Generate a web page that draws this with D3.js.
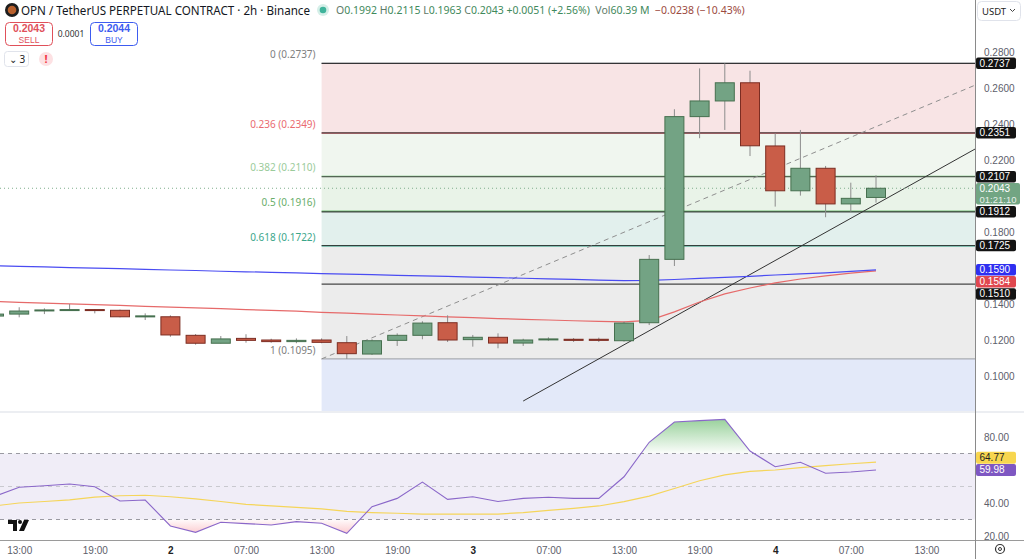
<!DOCTYPE html>
<html>
<head>
<meta charset="utf-8">
<script src="https://cdn.jsdelivr.net/npm/d3@7"></script>
<style>
  body { margin: 0; background: #fff; overflow: hidden; }
  svg { display: block; font-family: "Noto Sans", Roboto, sans-serif; }
</style>
</head>
<body>
<svg id="chart" width="1024" height="559"></svg>
<script>
// ---- data (2h bars, OPN/USDT perp) ----
const open  = [0.1333,0.1344,0.1363,0.1364,0.1369,0.1365,0.1331,0.1329,0.1226,0.1182,0.1209,0.1200,
               0.1191,0.1200,0.1185,0.1122,0.1198,0.1226,0.1296,0.1202,0.1215,0.1183,0.1202,0.1204,
               0.1204,0.1196,0.1296,0.1648,0.2441,0.2528,0.2629,0.2278,0.2029,0.2154,0.1956,0.1992];
const high  = [0.1350,0.1382,0.1376,0.1400,0.1371,0.1369,0.1348,0.1337,0.1233,0.1222,0.1232,0.1207,
               0.1209,0.1209,0.1222,0.1204,0.1237,0.1304,0.1337,0.1228,0.1237,0.1207,0.1215,0.1211,
               0.1213,0.1302,0.1672,0.2482,0.2709,0.2737,0.2696,0.2348,0.2367,0.2167,0.2074,0.2115];
const low   = [0.1328,0.1326,0.1344,0.1363,0.1348,0.1326,0.1311,0.1218,0.1174,0.1181,0.1185,0.1185,
               0.1182,0.1182,0.1095,0.1117,0.1167,0.1204,0.1189,0.1163,0.1154,0.1167,0.1196,0.1189,
               0.1189,0.1191,0.1283,0.1611,0.2321,0.2367,0.2222,0.1941,0.2002,0.1882,0.1913,0.1963];
const close = [0.1344,0.1361,0.1367,0.1369,0.1364,0.1329,0.1334,0.1228,0.1182,0.1206,0.1198,0.1191,
               0.1198,0.1187,0.1124,0.1196,0.1226,0.1294,0.1200,0.1215,0.1183,0.1200,0.1206,0.1198,
               0.1198,0.1294,0.1648,0.2441,0.2528,0.2629,0.2279,0.2029,0.2154,0.1956,0.1987,0.2043];

const maBlue = [0.1612,0.1609,0.1606,0.1602,0.1599,0.1596,0.1592,0.1589,0.1586,0.1582,0.1579,0.1576,
                0.1573,0.1569,0.1566,0.1563,0.1559,0.1556,0.1553,0.1549,0.1546,0.1543,0.1540,0.1537,
                0.1533,0.1530,0.1531,0.1536,0.1542,0.1548,0.1554,0.1561,0.1567,0.1573,0.1581,0.1590];
const maRed  = [0.1414,0.1409,0.1405,0.1401,0.1396,0.1392,0.1387,0.1383,0.1378,0.1374,0.1369,0.1365,
                0.1360,0.1354,0.1349,0.1344,0.1339,0.1334,0.1329,0.1324,0.1319,0.1315,0.1311,0.1307,
                0.1303,0.1301,0.1309,0.1356,0.1411,0.1456,0.1489,0.1517,0.1539,0.1556,0.1571,0.1584];

const rsi   = [43.9,49.5,50.5,51.5,49.9,41.2,41.8,26.1,22.2,28.3,27.5,26.7,
               28.7,27.7,21.6,37.8,42.8,52.7,42.2,43.8,40.9,42.8,43.5,42.8,
               42.8,55.9,76.8,89.1,89.9,90.7,71.5,62.0,64.7,58.0,58.8,59.98];
const rsiMa = [38.2,40.0,40.9,41.9,43.6,44.4,44.7,43.8,42.5,40.9,39.2,38.2,
               37.3,36.4,34.9,34.2,33.8,33.3,33.2,33.2,33.3,34.2,35.5,36.7,
               38.2,40.8,44.2,48.8,53.5,57.0,59.2,60.0,61.4,62.7,63.8,64.77];

const timeTicks  = [1, 4, 7, 10, 13, 16, 19, 22, 25, 28, 31, 34, 37];
const timeLabels = ["13:00","19:00","2","07:00","13:00","19:00","3","07:00","13:00","19:00","4","07:00","13:00"];
const priceTicks = [0.28, 0.26, 0.24, 0.22, 0.20, 0.18, 0.16, 0.14, 0.12, 0.10];
const rsiTicks   = [80, 60, 40, 20];

const fibRatios = [0, 0.236, 0.382, 0.5, 0.618, 1, 1.618];
const fibPrices = [0.2737, 0.2349, 0.2110, 0.1916, 0.1722, 0.1095, 0.0080];
const fibStartBar = 13;
const rayPrices = [0.2737, 0.2351, 0.2107, 0.1912, 0.1725, 0.1510];
const trendBars = [21, 35], trendPrices = [0.0861, 0.1954];
const fibDiagBars = [13, 41], fibDiagPrices = [0.1095, 0.2737];
const countdown = "01:21:10";

// ---- styles ----
const fibFill  = ["#f8e4e5", "#f0f6ef", "#e9f3e8", "#e2f0ed", "#ececec", "#e3e9f9"];
const fibLine  = ["#787b86", "#e0555f", "#81c784", "#4caf50", "#2a9a80", "#9a9ca4"];
const fibText  = ["#808080", "#ea6b70", "#9acb9a", "#6aae6a", "#3ba68a", "#808080"];
const axisFont = "Liberation Sans, Arial, sans-serif";

const W = 1024, H = 559;
const axisX = 975, paneBottom = 411, rsiTop = 413, rsiBottom = 540;
const bodyW = 19;

const svg = d3.select("#chart");
const x  = d3.scaleLinear().domain([0, 35]).range([-6, 876]);
const y  = d3.scaleLinear().domain([0.10, 0.28]).range([376, 52]);
const yR = d3.scaleLinear().domain([40, 80]).range([503, 437]);

const defs = svg.append("defs");
defs.append("clipPath").attr("id", "clipP")
  .append("rect").attr("x", 0).attr("y", 0).attr("width", axisX).attr("height", paneBottom);
defs.append("clipPath").attr("id", "clipR")
  .append("rect").attr("x", 0).attr("y", rsiTop).attr("width", axisX).attr("height", rsiBottom - rsiTop);
defs.append("clipPath").attr("id", "clipOver")
  .append("rect").attr("x", 0).attr("y", rsiTop).attr("width", axisX).attr("height", yR(70) - rsiTop);
defs.append("clipPath").attr("id", "clipUnder")
  .append("rect").attr("x", 0).attr("y", yR(30)).attr("width", axisX).attr("height", rsiBottom - yR(30));
defs.append("clipPath").attr("id", "clipAxisR")
  .append("rect").attr("x", axisX).attr("y", rsiTop).attr("width", W - axisX).attr("height", rsiBottom - rsiTop);

const gUp = defs.append("linearGradient").attr("id", "gUp").attr("gradientUnits", "userSpaceOnUse")
  .attr("x1", 0).attr("x2", 0).attr("y1", yR(92)).attr("y2", yR(70));
gUp.append("stop").attr("offset", 0).attr("stop-color", "#4caf50").attr("stop-opacity", 0.6);
gUp.append("stop").attr("offset", 1).attr("stop-color", "#4caf50").attr("stop-opacity", 0.02);
const gDn = defs.append("linearGradient").attr("id", "gDn").attr("gradientUnits", "userSpaceOnUse")
  .attr("x1", 0).attr("x2", 0).attr("y1", yR(30)).attr("y2", yR(20));
gDn.append("stop").attr("offset", 0).attr("stop-color", "#f23645").attr("stop-opacity", 0.02);
gDn.append("stop").attr("offset", 1).attr("stop-color", "#f23645").attr("stop-opacity", 0.3);

// ---- price pane ----
const pane = svg.append("g").attr("clip-path", "url(#clipP)");
const fx0 = x(fibStartBar);

// fib bands
pane.selectAll("rect.band").data(d3.range(fibPrices.length - 1)).join("rect")
  .attr("x", fx0).attr("width", axisX - fx0)
  .attr("y", i => y(fibPrices[i]))
  .attr("height", i => y(fibPrices[i + 1]) - y(fibPrices[i]))
  .attr("fill", i => fibFill[i]);

// fib lines
pane.selectAll("line.fib").data(d3.range(fibPrices.length - 1)).join("line")
  .attr("x1", fx0).attr("x2", axisX)
  .attr("y1", i => y(fibPrices[i])).attr("y2", i => y(fibPrices[i]))
  .attr("stroke", i => fibLine[i]).attr("stroke-width", 1);

// horizontal rays
pane.selectAll("line.ray").data(rayPrices).join("line")
  .attr("x1", fx0).attr("x2", axisX)
  .attr("y1", d => y(d)).attr("y2", d => y(d))
  .attr("stroke", "#1e1e1e").attr("stroke-opacity", 0.8).attr("stroke-width", 1.2);

// fib labels
svg.append("g").selectAll("text").data(d3.range(fibPrices.length - 1)).join("text")
  .attr("x", fx0 - 6).attr("y", i => y(fibPrices[i]) - 8)
  .attr("text-anchor", "end").attr("dominant-baseline", "middle")
  .attr("font-size", 10).attr("fill", i => fibText[i])
  .text(i => `${fibRatios[i]} (${fibPrices[i].toFixed(4)})`);

// fib diagonal (dashed)
pane.append("line")
  .attr("x1", x(fibDiagBars[0])).attr("y1", y(fibDiagPrices[0]))
  .attr("x2", x(fibDiagBars[1])).attr("y2", y(fibDiagPrices[1]))
  .attr("stroke", "#8f8f8f").attr("stroke-width", 1).attr("stroke-dasharray", "5,4");

// trend line (extended to the right)
{
  const x1 = x(trendBars[0]), y1 = y(trendPrices[0]);
  const x2 = x(trendBars[1]), y2 = y(trendPrices[1]);
  const k = (y2 - y1) / (x2 - x1);
  pane.append("line")
    .attr("x1", x1).attr("y1", y1)
    .attr("x2", axisX).attr("y2", y1 + k * (axisX - x1))
    .attr("stroke", "#333").attr("stroke-width", 1);
}

// current price dotted line
pane.append("line")
  .attr("x1", 0).attr("x2", axisX)
  .attr("y1", y(close[35])).attr("y2", y(close[35]))
  .attr("stroke", "#7fae8c").attr("stroke-width", 1).attr("stroke-dasharray", "1,3");

// moving averages
const maLine = d3.line().x((d, i) => x(i)).y(d => y(d));
pane.append("path").attr("d", maLine(maRed))
  .attr("fill", "none").attr("stroke", "#e66a6a").attr("stroke-width", 1.2);
pane.append("path").attr("d", maLine(maBlue))
  .attr("fill", "none").attr("stroke", "#4a4cf2").attr("stroke-width", 1.2);

// candles
const candles = d3.range(open.length).map(i => ({ i, o: open[i], h: high[i], l: low[i], c: close[i] }));
pane.selectAll("line.wick").data(candles).join("line")
  .attr("x1", d => x(d.i)).attr("x2", d => x(d.i))
  .attr("y1", d => y(d.h)).attr("y2", d => y(d.l))
  .attr("stroke", "#8c8c8c").attr("stroke-width", 1);
pane.selectAll("rect.body").data(candles).join("rect")
  .attr("x", d => x(d.i) - bodyW / 2).attr("width", bodyW)
  .attr("y", d => y(Math.max(d.o, d.c)))
  .attr("height", d => Math.max(1, Math.abs(y(d.o) - y(d.c))))
  .attr("fill", d => d.c >= d.o ? "#73a384" : "#c95d48")
  .attr("stroke", d => d.c >= d.o ? "#46704f" : "#7c2d22")
  .attr("stroke-width", 1);

// ---- RSI pane ----
const rp = svg.append("g").attr("clip-path", "url(#clipR)");
rp.append("rect").attr("x", 0).attr("width", axisX)
  .attr("y", yR(70)).attr("height", yR(30) - yR(70)).attr("fill", "#f0edf7");
rp.selectAll("line.lvl").data([70, 50, 30]).join("line")
  .attr("x1", 0).attr("x2", axisX).attr("y1", d => yR(d)).attr("y2", d => yR(d))
  .attr("stroke", d => d === 50 ? "#c9c9cf" : "#9a9aa2").attr("stroke-dasharray", "4,4");

const over = d3.area().x((d, i) => x(i)).y0(yR(70)).y1(d => yR(d));
rp.append("path").attr("d", over(rsi)).attr("fill", "url(#gUp)").attr("clip-path", "url(#clipOver)");
const under = d3.area().x((d, i) => x(i)).y0(yR(30)).y1(d => yR(d));
rp.append("path").attr("d", under(rsi)).attr("fill", "url(#gDn)").attr("clip-path", "url(#clipUnder)");

const rLine = d3.line().x((d, i) => x(i)).y(d => yR(d));
rp.append("path").attr("d", rLine(rsiMa)).attr("fill", "none").attr("stroke", "#f5d55a").attr("stroke-width", 1.2);
rp.append("path").attr("d", rLine(rsi)).attr("fill", "none").attr("stroke", "#8a67c9").attr("stroke-width", 1.1);

// ---- separators ----
svg.append("rect").attr("x", 0).attr("y", paneBottom).attr("width", W).attr("height", 2).attr("fill", "#eceef2");
svg.append("line").attr("x1", 0).attr("x2", W).attr("y1", rsiBottom + 0.5).attr("y2", rsiBottom + 0.5).attr("stroke", "#9a9a9a");
svg.append("line").attr("x1", axisX + 0.5).attr("x2", axisX + 0.5).attr("y1", 0).attr("y2", H).attr("stroke", "#8a8a8a");

// ---- right-side value labels (placed first so covered ticks can be hidden) ----
function placeLabels(items) {
  items.sort((a, b) => a.y - b.y);
  let prev = -Infinity;
  items.forEach(d => {
    d.top = Math.max(d.y - 5.8, prev + 0.6);
    prev = d.top + d.h;
  });
  return items;
}
const priceLabels = placeLabels([
  ...rayPrices.map(p => ({ y: y(p), h: 11.5, w: 40, lines: [p.toFixed(4)], bg: "#131313", fg: "#fff" })),
  { y: y(close[35]), h: 21.5, w: 44, lines: [close[35].toFixed(4), countdown], bg: "#72a583", fg: "#fff" },
  { y: y(maBlue[35]), h: 11.5, w: 40, lines: [maBlue[35].toFixed(4)], bg: "#2f2ff0", fg: "#fff" },
  { y: y(maRed[35]), h: 11.5, w: 40, lines: [maRed[35].toFixed(4)], bg: "#e0474f", fg: "#fff" }
]);
const rsiLab = [
  { y: yR(rsi[35]), h: 12, w: 40, lines: [rsi[35].toFixed(2)], bg: "#7e57c2", fg: "#fff" },
  { y: yR(rsiMa[35]), h: 12, w: 40, lines: [rsiMa[35].toFixed(2)], bg: "#f7d64f", fg: "#222" }
];
rsiLab[0].top = rsiLab[0].y - 6;
rsiLab[1].top = Math.min(rsiLab[1].y - 6, rsiLab[0].top - 12.3);
const allLabels = [...priceLabels, ...rsiLab];
const covered = v => allLabels.some(d => v >= d.top && v <= d.top + d.h);

// ---- axes ----
const styleAxis = g => {
  g.select(".domain").remove();
  g.selectAll("text").attr("fill", "#5d606b").attr("font-size", 10).attr("font-family", axisFont);
};
svg.append("g").attr("transform", `translate(${axisX},0)`)
  .call(d3.axisRight(y).tickValues(priceTicks.filter(t => !covered(y(t))))
    .tickSize(0).tickPadding(9).tickFormat(d3.format(".4f")))
  .call(styleAxis)
  .call(g => g.selectAll(".tick text").attr("dy", "0.3em"));
svg.append("g").attr("clip-path", "url(#clipAxisR)")
  .append("g").attr("transform", `translate(${axisX},0)`)
  .call(d3.axisRight(yR).tickValues(rsiTicks.filter(t => !covered(yR(t))))
    .tickSize(0).tickPadding(9).tickFormat(d3.format(".2f")))
  .call(styleAxis);
svg.append("g").attr("transform", `translate(0,${rsiBottom})`)
  .call(d3.axisBottom(x).tickValues(timeTicks).tickSize(0).tickPadding(7).tickFormat((d, i) => timeLabels[i]))
  .call(styleAxis)
  .call(g => g.selectAll("text").filter(t => timeLabels[timeTicks.indexOf(t)].length === 1)
    .attr("fill", "#222").attr("font-weight", 600));

const lab = svg.append("g").selectAll("g").data(allLabels).join("g")
  .attr("transform", d => `translate(${axisX + 1},${d.top})`);
lab.append("rect").attr("width", d => d.w).attr("height", d => d.h).attr("rx", 2).attr("fill", d => d.bg);
lab.each(function (d) {
  d3.select(this).selectAll("text").data(d.lines).join("text")
    .attr("x", 3.5).attr("y", (t, k) => 9.3 + k * 10.4)
    .attr("font-family", axisFont)
    .attr("font-size", (t, k) => k ? 9.5 : 10)
    .attr("fill", d.fg).attr("fill-opacity", (t, k) => k ? 0.85 : 1)
    .text(t => t);
});

// ---- header ----
const hd = svg.append("g");
hd.append("circle").attr("cx", 12).attr("cy", 10).attr("r", 7).attr("fill", "#1d1d1d");
hd.append("circle").attr("cx", 12).attr("cy", 10).attr("r", 4.3).attr("fill", "#b8602c");
hd.append("text").attr("x", 21).attr("y", 14.5).attr("font-size", 12.5).attr("fill", "#131722")
  .attr("textLength", 289).attr("lengthAdjust", "spacingAndGlyphs")
  .text("OPN / TetherUS PERPETUAL CONTRACT · 2h · Binance");
hd.append("circle").attr("cx", 323).attr("cy", 10).attr("r", 6).attr("fill", "#d5efe8");
hd.append("circle").attr("cx", 323).attr("cy", 10).attr("r", 3.3).attr("fill", "#3fb39b");
const ohlc = hd.append("text").attr("x", 336).attr("y", 14).attr("font-size", 10.5);
[["O", "#5e7a68"], ["0.1992 ", "#3f8a5c"], ["H", "#5e7a68"], ["0.2115 ", "#3f8a5c"],
 ["L", "#5e7a68"], ["0.1963 ", "#3f8a5c"], ["C", "#5e7a68"], ["0.2043 ", "#3f8a5c"],
 ["+0.0051 (+2.56%)  ", "#3f8a5c"], ["Vol", "#5e7a68"], ["60.39 M  ", "#3f8a5c"],
 ["\u22120.0238 (\u221210.43%)", "#9c4a40"]]
  .forEach(([t, c]) => ohlc.append("tspan").attr("fill", c).attr("xml:space", "preserve").text(t));

// sell / buy boxes
const box = (bx, color, price, word) => {
  hd.append("rect").attr("x", bx + 0.5).attr("y", 22.5).attr("width", 47).attr("height", 23).attr("rx", 4)
    .attr("fill", "#fff").attr("stroke", color);
  hd.append("text").attr("x", bx + 24).attr("y", 32).attr("text-anchor", "middle")
    .attr("font-family", axisFont)
    .attr("font-size", 10.5).attr("font-weight", 600).attr("fill", color).text(price);
  hd.append("text").attr("x", bx + 24).attr("y", 42.8).attr("text-anchor", "middle")
    .attr("font-family", axisFont)
    .attr("font-size", 8.5).attr("fill", color).text(word);
};
box(5, "#e0505a", "0.2043", "SELL");
box(90, "#3d5cf0", "0.2044", "BUY");
hd.append("text").attr("x", 71).attr("y", 37).attr("text-anchor", "middle")
  .attr("font-size", 8.5).attr("fill", "#333").text("0.0001");
hd.append("rect").attr("x", 4.5).attr("y", 51.5).attr("width", 24).attr("height", 15).attr("rx", 3)
  .attr("fill", "#fff").attr("stroke", "#e0e3eb");
hd.append("text").attr("x", 9).attr("y", 63).attr("font-size", 10).attr("fill", "#222").text("\u2304 3");
hd.append("circle").attr("cx", 46).attr("cy", 59).attr("r", 7).attr("fill", "#fde1e3");
hd.append("text").attr("x", 46).attr("y", 63).attr("text-anchor", "middle")
  .attr("font-size", 11).attr("font-weight", 700).attr("fill", "#f23645").text("!");

// USDT selector
svg.append("rect").attr("x", 977.5).attr("y", 1.5).attr("width", 43).attr("height", 19).attr("rx", 4)
  .attr("fill", "#fff").attr("stroke", "#e0e3eb");
svg.append("text").attr("x", 982).attr("y", 14.5).attr("font-size", 9.5).attr("fill", "#222").text("USDT");
svg.append("path").attr("d", "M1010,9 l2.5,2.5 l2.5,-2.5").attr("fill", "none").attr("stroke", "#444");

// tradingview mark
const tv = svg.append("g").attr("fill", "#111");
tv.append("path").attr("d", "M8,520 h9 v11 h-4 v-7 h-5 z");
tv.append("circle").attr("cx", 20).attr("cy", 522).attr("r", 2);
tv.append("path").attr("d", "M24,520 h5 l-5,11 h-5 z");

// settings icon
svg.append("circle").attr("cx", 1000).attr("cy", 549).attr("r", 4.5).attr("fill", "none").attr("stroke", "#333").attr("stroke-width", 1.2);
svg.append("circle").attr("cx", 1000).attr("cy", 549).attr("r", 1.5).attr("fill", "none").attr("stroke", "#333");
</script>
</body>
</html>
